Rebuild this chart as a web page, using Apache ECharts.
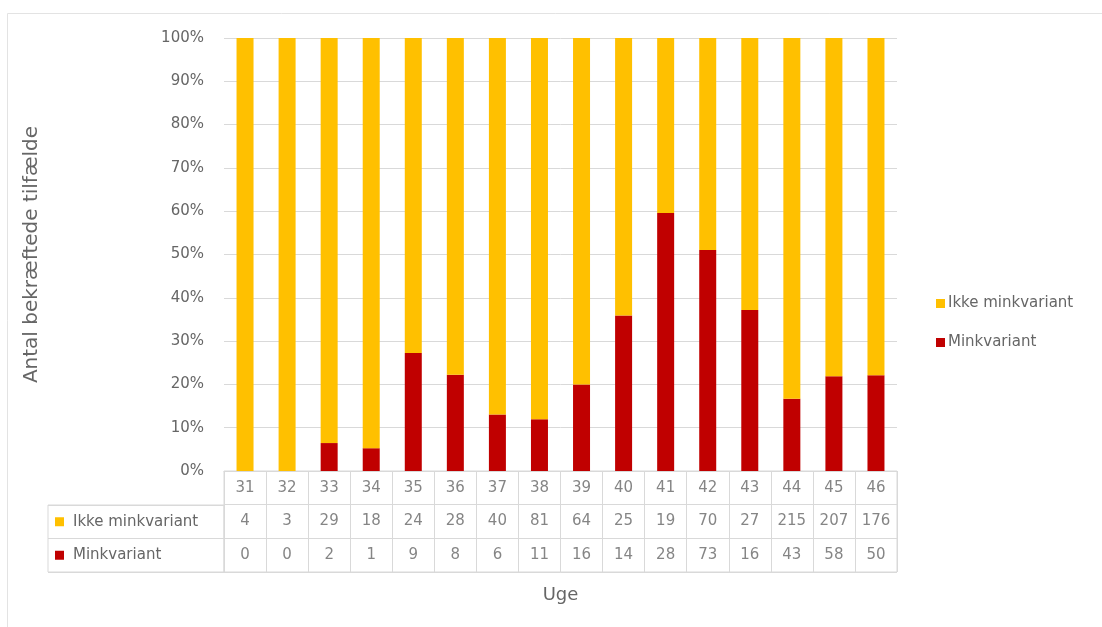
<!DOCTYPE html>
<html>
<head>
<meta charset="utf-8">
<script src="https://cdn.jsdelivr.net/npm/echarts@6/dist/echarts.min.js"></script>
<style>
html,body{margin:0;padding:0;background:#fff;}
#chart{width:1102px;height:627px;}
</style>
</head>
<body>
<div id="chart"></div>
<script>
const weeks = ['31','32','33','34','35','36','37','38','39','40','41','42','43','44','45','46'];
const ikkeMink = [4,3,29,18,24,28,40,81,64,25,19,70,27,215,207,176];
const mink = [0,0,2,1,9,8,6,11,16,14,28,73,16,43,58,50];
const yTicks = ['0%','10%','20%','30%','40%','50%','60%','70%','80%','90%','100%'];
const seriesNames = ['Ikke minkvariant','Minkvariant'];

const YELLOW = '#FFC000', RED = '#C00000', TXT = '#666666', GRID = '#d9d9d9';
const FONT = 'DejaVu Sans';
const FS = 15;

const totals = weeks.map((w,i)=>ikkeMink[i]+mink[i]);
const minkPct = mink.map((v,i)=>totals[i] ? v/totals[i]*100 : 0);
const ikkePct = ikkeMink.map((v,i)=>totals[i] ? v/totals[i]*100 : 0);

// table cells: [col, row, text]
const tableRows = [weeks, ikkeMink.map(String), mink.map(String)];
const cellData = [];
tableRows.forEach((row,r)=>row.forEach((t,c)=>cellData.push([c, r, t])));

const chart = echarts.init(document.getElementById('chart'), null, {renderer:'canvas'});
const option = {
  backgroundColor:'#fff',
  textStyle:{fontFamily:FONT},
  animation:false,
  graphic:[{type:'rect', shape:{x:7.5,y:13.5,width:1110,height:640}, style:{fill:'none',stroke:'#e3e3e3',lineWidth:1}}],
  legend:{
    orient:'vertical', left:931, top:291, itemGap:24,
    itemWidth:9, itemHeight:9, icon:'rect',
    data:seriesNames,
    textStyle:{color:TXT,fontSize:FS,fontFamily:FONT, padding:[0,0,0,-2]}
  },
  grid:[
    {left:224, right:205, top:38, height:433},
    {left:224, right:205, top:471, height:101, show:true, borderColor:GRID, borderWidth:1},
    {left:48, width:176, top:505, height:67, show:true, borderColor:GRID, borderWidth:1}
  ],
  xAxis:[
    {gridIndex:0, type:'category', data:weeks, axisLabel:{show:false}, axisTick:{show:false},
     axisLine:{lineStyle:{color:GRID}}},
    {gridIndex:1, type:'category', data:weeks, axisLabel:{show:false}, axisTick:{show:false},
     axisLine:{show:false}, splitLine:{show:true, lineStyle:{color:GRID}},
     name:'Uge', nameLocation:'middle', nameGap:14,
     nameTextStyle:{color:TXT, fontSize:18, fontFamily:FONT}},
    {gridIndex:2, type:'value', show:false, min:0, max:1}
  ],
  yAxis:[
    {gridIndex:0, type:'value', min:0, max:100, interval:10,
     axisLabel:{color:TXT, fontSize:FS, fontFamily:FONT, margin:20, formatter:(v)=>yTicks[Math.round(v/10)]},
     splitLine:{lineStyle:{color:GRID}}, axisLine:{show:false}, axisTick:{show:false},
     name:'Antal bekræftede tilfælde', nameLocation:'middle', nameGap:182, nameRotate:90,
     nameTextStyle:{color:TXT, fontSize:20, fontFamily:FONT}},
    {gridIndex:1, type:'category', data:['0','1','2'], inverse:true, axisLabel:{show:false},
     axisTick:{show:false}, axisLine:{show:false}, splitLine:{show:true, lineStyle:{color:GRID}}},
    {gridIndex:2, type:'category', data:seriesNames, inverse:true,
     axisTick:{show:false}, axisLine:{show:false}, splitLine:{show:true, lineStyle:{color:GRID}},
     axisLabel:{inside:true, align:'left', margin:7, color:TXT, fontSize:FS, fontFamily:FONT,
       formatter:(v)=>(v===seriesNames[0]?'{y|}':'{r|}')+'{sp|}'+v,
       rich:{y:{backgroundColor:YELLOW,width:9,height:9}, r:{backgroundColor:RED,width:9,height:9}, sp:{width:9}}}}
  ],
  series:[
    {name:'Minkvariant', type:'bar', stack:'s', xAxisIndex:0, yAxisIndex:0, data:minkPct,
     barWidth:17, itemStyle:{color:RED}},
    {name:'Ikke minkvariant', type:'bar', stack:'s', xAxisIndex:0, yAxisIndex:0, data:ikkePct,
     barWidth:17, itemStyle:{color:YELLOW}},
    {type:'scatter', xAxisIndex:1, yAxisIndex:1, data:cellData, symbolSize:0, silent:true,
     label:{show:true, position:'inside', formatter:(p)=>p.data[2], color:TXT, fontSize:FS, fontFamily:FONT}}
  ]
};
chart.setOption(option);
</script>
</body>
</html>
